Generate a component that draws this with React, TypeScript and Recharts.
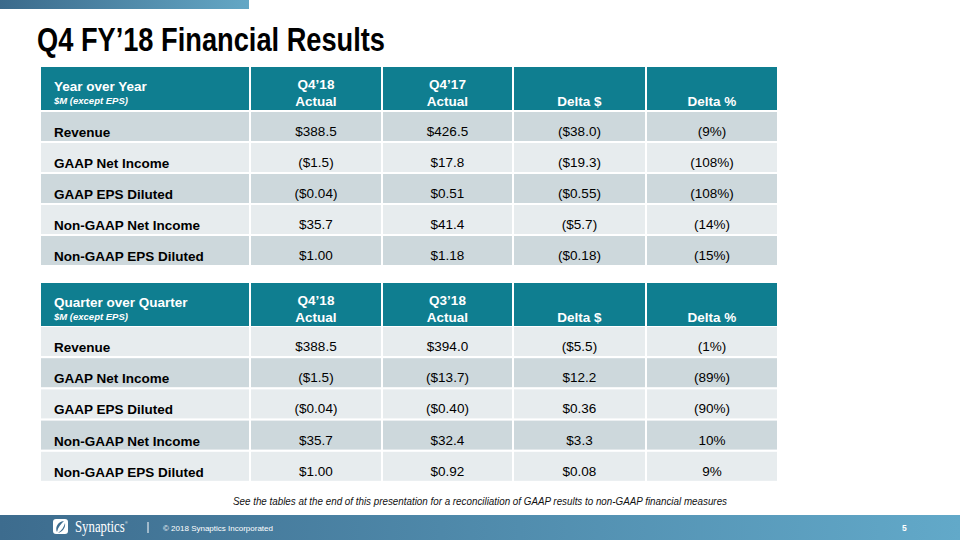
import React from 'react'
import { BarChart, Bar, XAxis, YAxis } from 'recharts'

const rowLabels = [
  'Revenue',
  'GAAP Net Income',
  'GAAP EPS Diluted',
  'Non-GAAP Net Income',
  'Non-GAAP EPS Diluted',
]

// year over year
const yoyHeaders = [['Q4’18', 'Actual'], ['Q4’17', 'Actual'], ['', 'Delta $'], ['', 'Delta %']]
const yoyQ418 = [388.5, -1.5, -0.04, 35.7, 1.0]
const yoyQ417 = [426.5, 17.8, 0.51, 41.4, 1.18]
const yoyDelta = [-38.0, -19.3, -0.55, -5.7, -0.18]
const yoyDeltaPct = [-9, -108, -108, -14, -15]

// quarter over quarter
const qoqHeaders = [['Q4’18', 'Actual'], ['Q3’18', 'Actual'], ['', 'Delta $'], ['', 'Delta %']]
const qoqQ418 = [388.5, -1.5, -0.04, 35.7, 1.0]
const qoqQ318 = [394.0, -13.7, -0.4, 32.4, 0.92]
const qoqDelta = [-5.5, 12.2, 0.36, 3.3, 0.08]
const qoqDeltaPct = [-1, -89, -90, 10, 9]

const FONT = '"Liberation Sans", Arial, Helvetica, sans-serif'
const TEAL = '#0f7e90'
const DARK_ROW = '#cdd8dc'
const LIGHT_ROW = '#e7ecee'

const TABLE_LEFT = 41
const TABLE_WIDTH = 736
const colStart = [0, 210, 342, 473, 606]
const colEnd = [208, 340, 471, 604, 736]

const fmtMoney = (v: number, d: number) =>
  v < 0 ? `($${Math.abs(v).toFixed(d)})` : `$${v.toFixed(d)}`
const fmtPct = (v: number) => (v < 0 ? `(${Math.abs(v)}%)` : `${v}%`)

function buildRows(cur: number[], prev: number[], delta: number[], pct: number[]) {
  return rowLabels.map((label, i) => ({
    label,
    cur: cur[i],
    prev: prev[i],
    delta: delta[i],
    pct: pct[i],
  }))
}

function makeRowShape(darkFirst: boolean) {
  return (props: any) => {
    const { x, y, height, index, payload } = props
    const dark = darkFirst ? index % 2 === 0 : index % 2 === 1
    const fill = dark ? DARK_ROW : LIGHT_ROW
    const d = payload.label.includes('EPS') ? 2 : 1
    const cells = [
      fmtMoney(payload.cur, d),
      fmtMoney(payload.prev, d),
      fmtMoney(payload.delta, d),
      fmtPct(payload.pct),
    ]
    return (
      <g>
        {colStart.map((x0, c) => (
          <rect key={c} x={x + x0} y={y} width={colEnd[c] - x0} height={height - 2} fill={fill} />
        ))}
        <text x={x + 13} y={y + 25} fontFamily={FONT} fontSize={13.5} fontWeight="bold" fill="#000">
          {payload.label}
        </text>
        {cells.map((t, c) => (
          <text
            key={'t' + c}
            x={x + (colStart[c + 1] + colEnd[c + 1]) / 2}
            y={y + 24}
            textAnchor="middle"
            fontFamily={FONT}
            fontSize={13.5}
            fill="#000"
          >
            {t}
          </text>
        ))}
      </g>
    )
  }
}

function TableBody({ top, height, rows, darkFirst }: any) {
  return (
    <div style={{ position: 'absolute', left: TABLE_LEFT, top }}>
      <BarChart
        width={TABLE_WIDTH}
        height={height}
        data={rows}
        layout="vertical"
        margin={{ top: 0, right: 0, bottom: 0, left: 0 }}
        barCategoryGap={0}
        barGap={0}
      >
        <XAxis type="number" hide />
        <YAxis type="category" dataKey="label" hide />
        <Bar
          dataKey="cur"
          isAnimationActive={false}
          background={makeRowShape(darkFirst)}
          shape={() => <g />}
        />
      </BarChart>
    </div>
  )
}

function TableHeader({ top, title, headers }: { top: number; title: string; headers: string[][] }) {
  return (
    <g>
      {colStart.map((x0, c) => (
        <rect key={c} x={TABLE_LEFT + x0} y={top} width={colEnd[c] - x0} height={43} fill={TEAL} />
      ))}
      <text x={TABLE_LEFT + 13} y={top + 24} fontFamily={FONT} fontSize={13.5} fontWeight="bold" fill="#fff">
        {title}
      </text>
      <text
        x={TABLE_LEFT + 13}
        y={top + 36.5}
        fontFamily={FONT}
        fontSize={9.5}
        fontWeight="bold"
        fontStyle="italic"
        fill="#fff"
      >
        $M (except EPS)
      </text>
      {headers.map((h, c) => {
        const cx = TABLE_LEFT + (colStart[c + 1] + colEnd[c + 1]) / 2
        return (
          <g key={'h' + c}>
            <text x={cx} y={top + 21.5} textAnchor="middle" fontFamily={FONT} fontSize={13.5} fontWeight="bold" fill="#fff">
              {h[0]}
            </text>
            <text x={cx} y={top + 39} textAnchor="middle" fontFamily={FONT} fontSize={13.5} fontWeight="bold" fill="#fff">
              {h[1]}
            </text>
          </g>
        )
      })}
    </g>
  )
}

export default function App() {
  const yoyRows = buildRows(yoyQ418, yoyQ417, yoyDelta, yoyDeltaPct)
  const qoqRows = buildRows(qoqQ418, qoqQ318, qoqDelta, qoqDeltaPct)

  return (
    <div style={{ position: 'absolute', left: 0, top: 0, width: 960, height: 540, background: '#fff', overflow: 'hidden' }}>
      <svg width={960} height={540} style={{ position: 'absolute', left: 0, top: 0 }}>
        <defs>
          <linearGradient id="topBar" x1="0" y1="0" x2="1" y2="0">
            <stop offset="0%" stopColor="#3b6a8b" />
            <stop offset="100%" stopColor="#64a7c5" />
          </linearGradient>
          <linearGradient id="footBar" x1="0" y1="0" x2="1" y2="0">
            <stop offset="0%" stopColor="#3d6c8e" />
            <stop offset="100%" stopColor="#62a9c9" />
          </linearGradient>
        </defs>
        <rect x={0} y={0} width={249} height={9} fill="url(#topBar)" />
        <text
          x={37}
          y={51}
          fontFamily='"Liberation Sans Narrow", "Liberation Sans", Arial, sans-serif'
          fontSize={34}
          fontWeight="bold"
          fill="#000"
          textLength={348}
          lengthAdjust="spacingAndGlyphs"
        >
          Q4 FY’18 Financial Results
        </text>

        <TableHeader top={67} title="Year over Year" headers={yoyHeaders} />
        <TableHeader top={283} title="Quarter over Quarter" headers={qoqHeaders} />

        <text
          x={480}
          y={505}
          textAnchor="middle"
          fontFamily={FONT}
          fontSize={11.5}
          fontStyle="italic"
          fill="#111"
          textLength={494}
          lengthAdjust="spacingAndGlyphs"
        >
          See the tables at the end of this presentation for a reconciliation of GAAP results to non-GAAP financial measures
        </text>

        <rect x={0} y={515} width={960} height={25} fill="url(#footBar)" />
        <rect x={53} y={519} width={15} height={15} rx={3} fill="#fff" />
        <path d="M64 521 C57 522 55 528 57 532 C58 527 61 524 64 521 Z" fill="#3d6c8e" />
        <path d="M58 533 C62 532 66 528 65 523 C64 527 62 530 58 533 Z" fill="#3d6c8e" />
        <g transform="translate(75,532) scale(0.8,1)">
          <text x={0} y={0} fontFamily='"Liberation Serif", "Times New Roman", serif' fontSize={16} fill="#fff">
            Synaptics
            <tspan fontSize={5} dy={-8}>
              ®
            </tspan>
          </text>
        </g>
        <line x1={148} y1={522} x2={148} y2={533} stroke="#fff" strokeWidth={1} />
        <text x={163} y={531} fontFamily={FONT} fontSize={8} fill="#fff">
          © 2018 Synaptics Incorporated
        </text>
        <text x={902} y={531} fontFamily={FONT} fontSize={8.5} fontWeight="bold" fill="#fff">
          5
        </text>
      </svg>

      <TableBody top={112} height={155} rows={yoyRows} darkFirst={true} />
      <TableBody top={327} height={156} rows={qoqRows} darkFirst={false} />
    </div>
  )
}
